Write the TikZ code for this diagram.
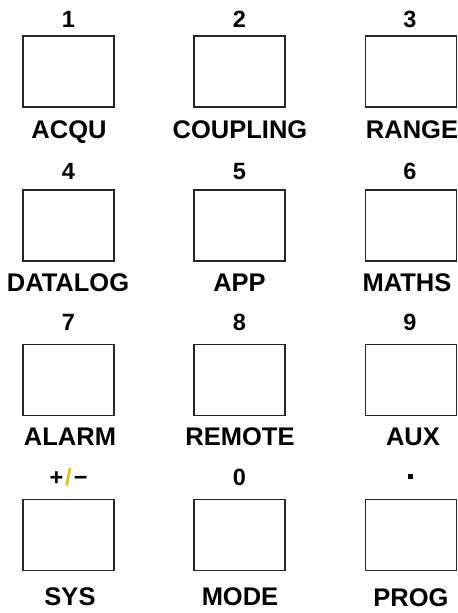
\documentclass[tikz,border=0pt]{standalone}
\usepackage{fontspec}
\setmainfont{Liberation Sans}
\begin{document}
\begin{tikzpicture}[x=1bp,y=-1bp,
  key/.style={draw=black!85,line width=1.1bp,fill=white,rectangle,inner sep=0pt,
    minimum width=91bp,minimum height=71bp},
  num/.style={inner sep=0pt,anchor=base,font=\fontsize{23.5bp}{27bp}\selectfont\bfseries},
  lab/.style={inner sep=0pt,anchor=base,font=\fontsize{25.5bp}{29bp}\selectfont\bfseries}]
\useasboundingbox (0,0) rectangle (458,613);
\foreach \nm/\cx/\cy in {k1/68.5/71.5,k2/239.5/71.5,k3/411/71.5,
  k4/68.5/225.5,k5/239.5/225.5,k6/411/225.5,
  k7/68.5/380,k8/239.5/380,k9/411/380,
  kpm/68.5/535,k0/239.5/535,kdot/411/535}
  \node[key] (\nm) at (\cx,\cy) {};
% numbers (base line)
\node[num] (n1) at (68.5,28) {1};
\node[num] (n2) at (239.5,28) {2};
\node[num] (n3) at (410,28) {3};
\node[num] (n4) at (68.5,180) {4};
\node[num] (n5) at (239.5,180) {5};
\node[num] (n6) at (410,180) {6};
\node[num] (n7) at (68.5,330) {7};
\node[num] (n8) at (239.5,330) {8};
\node[num] (n9) at (410,330) {9};
\node[num] (npm) at (68.5,485) {+\hspace{2bp}\textcolor[rgb]{0.85,0.75,0.1}{/}\hspace{2bp}−};
\node[num] (n0) at (239.5,485) {0};
\node[fill=black,inner sep=0pt,minimum size=5bp] (ndot) at (410,476) {};
% labels (base line)
\node[lab] (l1) at (69,138.5) {ACQU};
\node[lab] (l2) at (240,138.5) {COUPLING};
\node[lab] (l3) at (412,138.5) {RANGE};
\node[lab] (l4) at (68,291.5) {DATALOG};
\node[lab] (l5) at (239.5,291.5) {APP};
\node[lab] (l6) at (407,291.5) {MATHS};
\node[lab] (l7) at (70,445.5) {ALARM};
\node[lab] (l8) at (240,445.5) {REMOTE};
\node[lab] (l9) at (413,445.5) {AUX};
\node[lab] (lpm) at (70,605.5) {SYS};
\node[lab] (l0) at (240,605.5) {MODE};
\node[lab] (ldot) at (411,606.5) {PROG};
\end{tikzpicture}
\end{document}
